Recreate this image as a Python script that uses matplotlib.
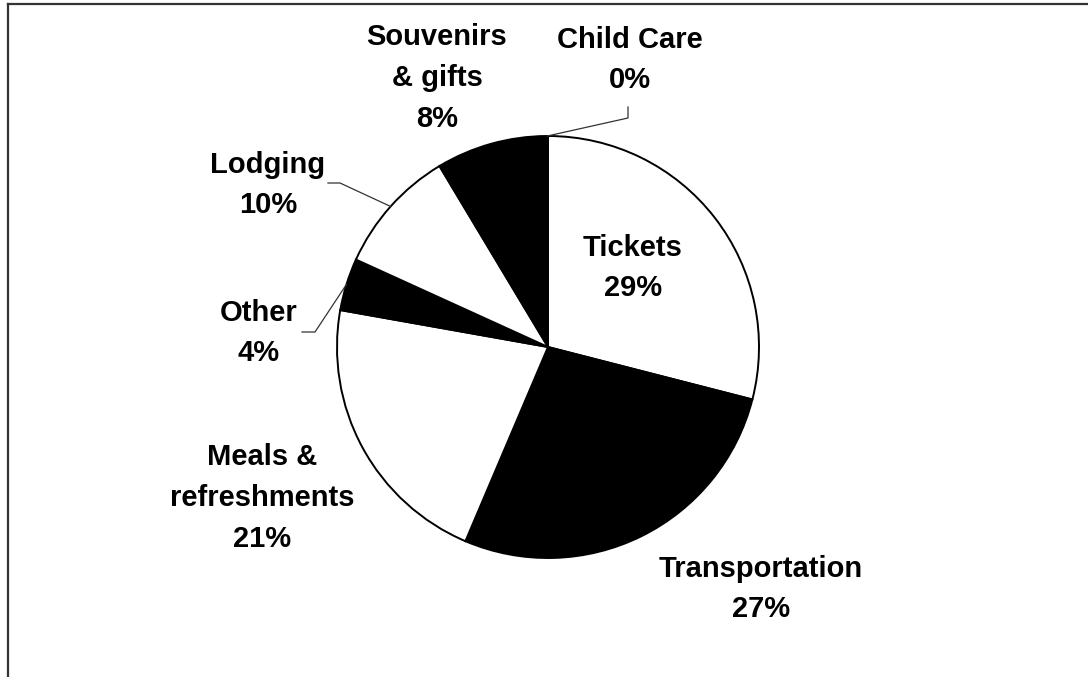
import numpy as np
import matplotlib.pyplot as plt
from matplotlib.lines import Line2D

# spending breakdown, percent of total
categories = ['Tickets', 'Transportation', 'Meals &\nrefreshments', 'Other',
              'Lodging', 'Souvenirs\n& gifts', 'Child Care']
shares     = [29.0, 27.4, 21.4, 4.0, 9.6, 8.49, 0.11]
colors     = ['white', 'black', 'white', 'black', 'white', 'black', 'white']

W, H = 1088, 677
plt.rcParams['font.family'] = ['Liberation Sans', 'DejaVu Sans']

fig = plt.figure(figsize=(W / 100, H / 100), dpi=100)
ax = fig.add_axes([0, 0, 1, 1])

# everything below is laid out in pixel units, y measured from the top
def py(y):
    return H - y

cx, cy, r = 548, 347, 211
wedges, _ = ax.pie(shares, colors=colors, startangle=90, counterclock=False,
                   center=(cx, py(cy)), radius=r,
                   wedgeprops=dict(edgecolor='black', linewidth=1.4))
ax.set_xlim(0, W)
ax.set_ylim(0, H)
ax.set_aspect('equal')
ax.axis('off')

# label centres (pixels)
label_pos = {
    'Tickets': (633, 268),
    'Transportation': (761, 589),
    'Meals &\nrefreshments': (262, 498),
    'Other': (259, 333),
    'Lodging': (268, 185),
    'Souvenirs\n& gifts': (437, 78),
    'Child Care': (630, 60),
}
for name, val in zip(categories, shares):
    x, y = label_pos[name]
    ax.text(x, py(y), f'{name}\n{round(val)}%', ha='center', va='center',
            fontsize=21, fontweight='bold', linespacing=1.58)

# leader lines for the small outside slices: rim point -> elbow -> end
leaders = {
    'Child Care': [(628, 118), (628, 107)],
    'Lodging': [(340, 183), (328, 183)],
    'Other': [(315, 332), (302, 332)],
}
for name, pts in leaders.items():
    w = wedges[categories.index(name)]
    mid = np.deg2rad((w.theta1 + w.theta2) / 2)
    xs = [cx + r * np.cos(mid)] + [p[0] for p in pts]
    ys = [py(cy) + r * np.sin(mid)] + [py(p[1]) for p in pts]
    ax.plot(xs, ys, color='#333333', lw=0.9)

# chart area border (only top and left edges fall inside the image)
ax.add_line(Line2D([8, W + 5], [py(4), py(4)], color='#333333', lw=1.6))
ax.add_line(Line2D([8, 8], [py(4), -5], color='#333333', lw=1.6))

fig.savefig('out.png', dpi=100)
